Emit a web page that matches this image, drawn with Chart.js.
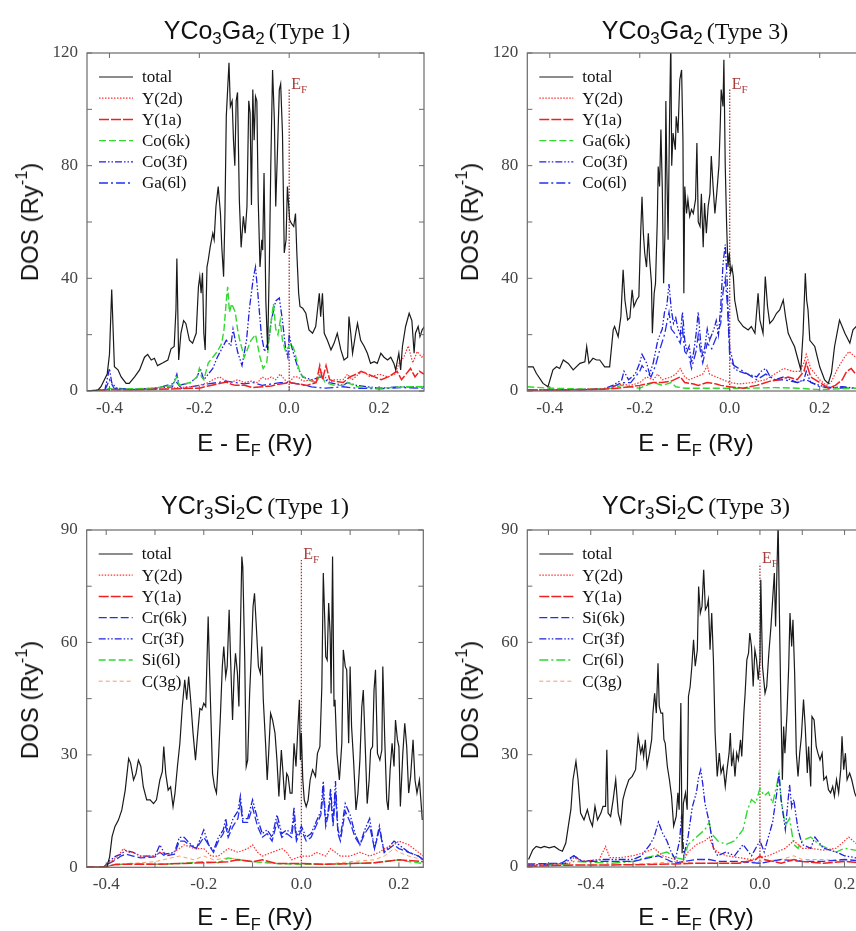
<!DOCTYPE html>
<html><head><meta charset="utf-8">
<script src="https://cdn.jsdelivr.net/npm/chart.js@4/dist/chart.umd.min.js"></script>
<style>
html,body{margin:0;padding:0;background:#fff;width:856px;height:931px;overflow:hidden;position:relative}
canvas{position:absolute}
.lbl{position:absolute;transform:translate(-50%,-50%);white-space:nowrap;color:#111;line-height:1}
.sans{font-family:"Liberation Sans",Arial,sans-serif}
.serif{font-family:"Liberation Serif","Times New Roman",serif}
.ttl .sans{font-size:25px}
.ttl .serif{font-size:24px}
sub{font-size:0.68em;vertical-align:-0.3em;line-height:0}
sup{font-size:0.68em;vertical-align:0.65em;line-height:0}
.ax{font-size:24px}
.rot{transform:translate(-50%,-50%) rotate(-90deg)}
</style>
</head><body>
<canvas id="c1"></canvas><canvas id="c2"></canvas><canvas id="c3"></canvas><canvas id="c4"></canvas>

<div class="lbl ttl" style="left:257px;top:30px"><span class="sans">YCo<sub>3</sub>Ga<sub>2</sub></span> <span class="serif">(Type 1)</span></div>
<div class="lbl ttl" style="left:695px;top:30px"><span class="sans">YCo<sub>3</sub>Ga<sub>2</sub></span> <span class="serif">(Type 3)</span></div>
<div class="lbl ttl" style="left:255px;top:505px"><span class="sans">YCr<sub>3</sub>Si<sub>2</sub>C</span> <span class="serif">(Type 1)</span></div>
<div class="lbl ttl" style="left:696px;top:505px"><span class="sans">YCr<sub>3</sub>Si<sub>2</sub>C</span> <span class="serif">(Type 3)</span></div>

<div class="lbl sans ax rot" style="left:30px;top:222px">DOS (Ry<sup>-1</sup>)</div>
<div class="lbl sans ax rot" style="left:470px;top:222px">DOS (Ry<sup>-1</sup>)</div>
<div class="lbl sans ax rot" style="left:30px;top:700px">DOS (Ry<sup>-1</sup>)</div>
<div class="lbl sans ax rot" style="left:470px;top:700px">DOS (Ry<sup>-1</sup>)</div>

<div class="lbl sans ax" style="left:255px;top:443px">E - E<sub>F</sub> (Ry)</div>
<div class="lbl sans ax" style="left:696px;top:443px">E - E<sub>F</sub> (Ry)</div>
<div class="lbl sans ax" style="left:255px;top:917px">E - E<sub>F</sub> (Ry)</div>
<div class="lbl sans ax" style="left:696px;top:917px">E - E<sub>F</sub> (Ry)</div>

<script>
// ---------------- DATA ----------------
// Panel 1: YCo3Ga2 (Type 1)
const p1Total = [[-0.448,0],[-0.426,0.3],[-0.419,1.5],[-0.405,6],[-0.400,13],[-0.395,36],[-0.389,8.6],[-0.381,7.5],[-0.374,5],[-0.363,2.7],[-0.356,2.7],[-0.344,5],[-0.333,7.5],[-0.322,12],[-0.315,13],[-0.307,11],[-0.300,11.6],[-0.293,9],[-0.281,10],[-0.270,11],[-0.263,15],[-0.256,15.8],[-0.252,29],[-0.250,47],[-0.246,11],[-0.241,20.5],[-0.235,25],[-0.230,24],[-0.222,18],[-0.215,17],[-0.207,20.5],[-0.202,37],[-0.199,40.6],[-0.196,34.7],[-0.193,42],[-0.190,20.5],[-0.187,14.6],[-0.183,44],[-0.180,46.6],[-0.176,51],[-0.170,56],[-0.167,53.7],[-0.163,65.5],[-0.158,72.6],[-0.153,63],[-0.150,51],[-0.146,40.6],[-0.143,63],[-0.140,97.5],[-0.137,107],[-0.134,116.5],[-0.131,101],[-0.127,103],[-0.124,89],[-0.121,80],[-0.118,103],[-0.115,106],[-0.111,68],[-0.107,51],[-0.102,62],[-0.098,56],[-0.094,65.5],[-0.090,103],[-0.087,98.7],[-0.084,66],[-0.081,107],[-0.078,89],[-0.075,104.6],[-0.072,103],[-0.069,68],[-0.065,44],[-0.061,53.7],[-0.059,50],[-0.056,77.4],[-0.052,32],[-0.048,14.6],[-0.044,46.6],[-0.041,80],[-0.037,114],[-0.033,96],[-0.030,65.5],[-0.026,85.7],[-0.022,107],[-0.019,109],[-0.015,91.6],[-0.011,49],[-0.007,53.7],[-0.004,72.6],[0.001,60.8],[0.005,59.5],[0.010,58.4],[0.014,63],[0.017,49],[0.021,34.7],[0.024,30],[0.030,29.4],[0.037,27.6],[0.044,21.7],[0.052,20.5],[0.059,22.9],[0.067,34.7],[0.070,26.4],[0.074,34.7],[0.078,20.5],[0.085,18],[0.093,14.6],[0.100,17],[0.107,20.5],[0.115,14.6],[0.122,11],[0.130,12],[0.133,26.4],[0.137,20.5],[0.141,13.4],[0.148,20.5],[0.152,24],[0.159,18],[0.167,15.8],[0.174,13.4],[0.181,9.8],[0.189,10.4],[0.196,9.8],[0.204,13.4],[0.211,12],[0.219,11],[0.226,12],[0.233,9.8],[0.237,7.5],[0.241,11],[0.244,13.4],[0.248,7.5],[0.252,15.8],[0.259,22.9],[0.267,27.6],[0.273,25],[0.278,13.4],[0.281,20.5],[0.287,22.9],[0.291,19.3],[0.296,21.7],[0.301,22.9]];
const p1Y2d = [[-0.45,0],[-0.40,0.5],[-0.30,0.5],[-0.25,1.2],[-0.22,1.5],[-0.20,2],[-0.18,3],[-0.17,4],[-0.155,5],[-0.145,4],[-0.13,3],[-0.115,4],[-0.10,3],[-0.085,3.5],[-0.07,3],[-0.06,5],[-0.05,4],[-0.04,5],[-0.03,4],[-0.02,6],[-0.01,4],[0.0,3],[0.01,5],[0.02,5],[0.03,3.5],[0.05,4],[0.06,3],[0.07,7],[0.08,5],[0.09,3],[0.1,4],[0.12,4],[0.13,6],[0.14,4],[0.155,6],[0.165,7],[0.18,5],[0.2,6],[0.22,5],[0.235,6],[0.245,10],[0.255,12],[0.265,16],[0.275,10],[0.285,14],[0.295,12],[0.30,13]];
const p1Y1a = [[-0.45,0],[-0.40,0.5],[-0.35,0.4],[-0.30,0.6],[-0.25,0.8],[-0.2,1],[-0.18,1.8],[-0.16,2.5],[-0.14,3.2],[-0.13,2.5],[-0.12,2],[-0.1,2],[-0.08,1.2],[-0.06,1.5],[-0.04,1.8],[-0.02,2.5],[0,3],[0.02,2.5],[0.04,2],[0.06,3],[0.068,9],[0.074,4],[0.082,9],[0.09,4],[0.1,3.5],[0.12,3],[0.135,5],[0.15,6],[0.16,7],[0.175,6],[0.19,5],[0.205,4],[0.22,5],[0.24,7],[0.25,4],[0.26,6],[0.27,8],[0.28,5],[0.29,7],[0.3,6]];
const p1Co6k = [[-0.45,0],[-0.41,0.3],[-0.40,1],[-0.39,0.5],[-0.35,0.8],[-0.30,1],[-0.26,2],[-0.25,5],[-0.245,2],[-0.22,3],[-0.205,5],[-0.20,8],[-0.195,5],[-0.19,4],[-0.18,10],[-0.17,12],[-0.16,14],[-0.15,17],[-0.145,22],[-0.14,32],[-0.137,37],[-0.133,28],[-0.128,31],[-0.12,28],[-0.115,22],[-0.11,18],[-0.10,12],[-0.09,16],[-0.085,18],[-0.075,20],[-0.07,16],[-0.065,12],[-0.058,8],[-0.05,10],[-0.045,18],[-0.04,25],[-0.035,31],[-0.03,22],[-0.025,20],[-0.02,25],[-0.015,18],[-0.008,14],[0,16],[0.005,17],[0.012,14],[0.018,10],[0.025,6],[0.04,4],[0.06,3],[0.07,6],[0.08,3],[0.1,2],[0.12,2],[0.13,3],[0.15,1.5],[0.2,1],[0.26,1.5],[0.3,1.5]];
const p1Co3f = [[-0.45,0],[-0.41,0.5],[-0.40,8],[-0.395,3],[-0.385,1],[-0.35,0.6],[-0.3,1],[-0.26,1.5],[-0.25,6],[-0.245,2],[-0.22,3],[-0.205,5],[-0.198,8],[-0.19,4],[-0.18,6],[-0.17,8],[-0.16,12],[-0.15,15],[-0.14,18],[-0.13,16],[-0.125,22],[-0.115,14],[-0.105,9],[-0.095,18],[-0.088,30],[-0.08,40],[-0.075,44],[-0.07,35],[-0.062,20],[-0.055,14],[-0.045,18],[-0.04,25],[-0.03,32],[-0.022,33],[-0.015,25],[-0.008,15],[-0.003,12],[0,20],[0.005,16],[0.012,12],[0.02,8],[0.03,5],[0.05,4],[0.07,5],[0.09,3],[0.12,2],[0.13,3],[0.15,2],[0.2,1],[0.25,1.5],[0.3,1.5]];
const p1Ga6l = [[-0.45,0],[-0.41,0.3],[-0.40,4],[-0.39,1],[-0.35,0.5],[-0.3,0.8],[-0.25,3],[-0.24,1],[-0.2,2],[-0.18,2.5],[-0.16,3],[-0.14,3.5],[-0.12,3],[-0.1,2.5],[-0.08,3],[-0.06,2],[-0.04,2.5],[-0.02,3],[0,3],[0.02,2.5],[0.05,1.5],[0.08,1],[0.12,1.5],[0.15,1],[0.2,0.8],[0.25,1.2],[0.3,1]];

// Panel 2: YCo3Ga2 (Type 3)
const p2Total = [[-0.450,8.6],[-0.437,8.6],[-0.430,6.3],[-0.415,2.7],[-0.404,1.5],[-0.393,7.5],[-0.385,8.6],[-0.378,8],[-0.370,11],[-0.359,9.8],[-0.348,7.5],[-0.333,9.8],[-0.322,10.4],[-0.318,15.8],[-0.313,9.8],[-0.304,11.6],[-0.296,11],[-0.289,11],[-0.278,8.6],[-0.267,8.6],[-0.259,21.7],[-0.256,22.9],[-0.248,19.3],[-0.242,26.4],[-0.237,43],[-0.233,32.3],[-0.227,25.2],[-0.222,26],[-0.217,35.9],[-0.213,30],[-0.207,32.3],[-0.202,33.5],[-0.198,56],[-0.195,69],[-0.192,56],[-0.189,49],[-0.185,44],[-0.181,56],[-0.178,46.6],[-0.174,38.3],[-0.172,20.5],[-0.168,34.7],[-0.165,38.3],[-0.161,60.8],[-0.159,79.7],[-0.156,72.6],[-0.153,92.8],[-0.150,72.6],[-0.147,38.3],[-0.144,56],[-0.142,103],[-0.140,80],[-0.137,53.7],[-0.134,94],[-0.131,125],[-0.129,80],[-0.126,91.6],[-0.124,91.6],[-0.121,85.7],[-0.119,97.5],[-0.115,91.6],[-0.111,110.5],[-0.107,114],[-0.104,89],[-0.102,34.7],[-0.100,72.6],[-0.096,63],[-0.093,68],[-0.089,62],[-0.085,64.4],[-0.081,63],[-0.076,68],[-0.073,88],[-0.070,60],[-0.066,58.4],[-0.063,70],[-0.059,51],[-0.056,66.7],[-0.052,56],[-0.048,65.5],[-0.044,70],[-0.041,83.4],[-0.037,72.6],[-0.033,63],[-0.029,70],[-0.024,80],[-0.021,95],[-0.019,107],[-0.015,101],[-0.013,117.6],[-0.010,80],[-0.007,59.5],[-0.004,44],[-0.001,49],[0.002,42],[0.005,44],[0.008,40.6],[0.011,32.3],[0.019,25.2],[0.030,22.9],[0.041,21.7],[0.048,22.9],[0.056,20.5],[0.063,34.7],[0.067,25.2],[0.074,20.5],[0.079,40.6],[0.084,30],[0.089,24],[0.096,25.2],[0.104,27.6],[0.111,28.8],[0.119,32.3],[0.124,26.4],[0.130,20.5],[0.137,18],[0.144,15.8],[0.152,11],[0.158,7.5],[0.163,20.5],[0.168,41.8],[0.171,32.3],[0.174,28.8],[0.178,18],[0.189,15.8],[0.200,8.6],[0.211,3.9],[0.219,2.7],[0.226,6.3],[0.233,15.8],[0.244,25.2],[0.256,20.5],[0.267,17],[0.274,21.7],[0.281,22.9],[0.290,20],[0.300,18]];
const p2Y2d = [[-0.45,0.3],[-0.35,0.5],[-0.28,0.8],[-0.26,1.5],[-0.24,2.5],[-0.22,2],[-0.2,3],[-0.185,5],[-0.17,4],[-0.16,6],[-0.15,4],[-0.13,5],[-0.12,6],[-0.11,8],[-0.1,5],[-0.09,4],[-0.075,5],[-0.06,6],[-0.05,9],[-0.045,6],[-0.03,5],[-0.015,4],[0,3],[0.02,2.5],[0.05,3],[0.08,4],[0.1,6],[0.12,8],[0.14,7],[0.155,7],[0.165,10],[0.17,13],[0.18,8],[0.19,6],[0.2,4],[0.215,2],[0.225,3],[0.24,8],[0.255,12],[0.265,14],[0.28,12],[0.3,11]];
const p2Y1a = [[-0.45,0.3],[-0.35,0.4],[-0.28,0.6],[-0.25,1],[-0.22,1.5],[-0.2,2],[-0.17,3],[-0.15,3],[-0.13,3.5],[-0.11,5],[-0.1,3],[-0.08,2.5],[-0.07,2],[-0.05,3],[-0.03,2.5],[-0.02,2],[0,1.5],[0.03,1],[0.06,2],[0.09,3.5],[0.11,4],[0.13,5],[0.15,4],[0.165,7],[0.17,10],[0.18,5],[0.2,3],[0.21,2],[0.22,1],[0.235,2],[0.25,4],[0.26,7],[0.27,8],[0.28,6],[0.3,6]];
const p2Ga6k = [[-0.45,1.5],[-0.4,1],[-0.3,0.6],[-0.26,1],[-0.24,2],[-0.22,1.5],[-0.2,1],[-0.17,3],[-0.15,2],[-0.13,3],[-0.12,1.5],[-0.1,1],[-0.05,1],[0,1],[0.05,1],[0.1,1.2],[0.15,1],[0.2,0.5],[0.28,1],[0.3,1]];
const p2Co3f = [[-0.45,0.3],[-0.35,0.5],[-0.28,0.8],[-0.26,2],[-0.24,4],[-0.235,7],[-0.225,4],[-0.21,6],[-0.2,10],[-0.195,13],[-0.185,10],[-0.178,6],[-0.17,10],[-0.16,18],[-0.15,22],[-0.145,28],[-0.14,30],[-0.135,38],[-0.13,29],[-0.125,24],[-0.12,26],[-0.115,22],[-0.11,20],[-0.105,28],[-0.1,18],[-0.095,14],[-0.09,16],[-0.085,10],[-0.08,14],[-0.075,20],[-0.07,28],[-0.065,18],[-0.06,12],[-0.055,16],[-0.05,22],[-0.045,18],[-0.04,20],[-0.035,22],[-0.03,25],[-0.025,20],[-0.02,30],[-0.015,45],[-0.01,52],[-0.006,40],[-0.003,25],[0,15],[0.005,12],[0.01,8],[0.02,7],[0.04,6],[0.06,5],[0.07,7],[0.08,8],[0.09,5],[0.1,4],[0.12,5],[0.15,3],[0.165,4],[0.17,7],[0.18,3],[0.2,2],[0.22,1],[0.25,1.5],[0.28,1],[0.3,1]];
const p2Co6l = [[-0.45,0.3],[-0.35,0.4],[-0.28,0.6],[-0.26,1.5],[-0.24,3],[-0.22,3],[-0.2,7],[-0.195,9],[-0.185,7],[-0.175,5],[-0.165,9],[-0.155,15],[-0.145,20],[-0.14,24],[-0.135,28],[-0.13,22],[-0.12,20],[-0.11,17],[-0.105,22],[-0.1,14],[-0.09,12],[-0.085,8],[-0.075,14],[-0.07,20],[-0.065,14],[-0.06,10],[-0.05,17],[-0.04,15],[-0.03,19],[-0.02,24],[-0.015,35],[-0.01,40],[-0.005,30],[0,12],[0.005,10],[0.01,9],[0.02,8],[0.04,6],[0.06,4],[0.08,6],[0.1,4],[0.12,4],[0.15,3],[0.17,4],[0.2,1.5],[0.25,1],[0.28,1],[0.3,1]];

// Panel 3: YCr3Si2C (Type 1)
const p3Total = [[-0.439,0],[-0.399,0],[-0.393,2.8],[-0.388,8.2],[-0.382,10.9],[-0.375,12.6],[-0.368,15.3],[-0.361,20.6],[-0.354,29],[-0.350,27.8],[-0.344,23.3],[-0.339,25],[-0.334,28.6],[-0.329,26.9],[-0.324,21.5],[-0.317,18],[-0.310,18],[-0.303,17],[-0.297,18],[-0.290,23.3],[-0.285,25.5],[-0.282,32.2],[-0.278,25],[-0.273,20.6],[-0.268,21.5],[-0.263,16.2],[-0.259,19.8],[-0.254,26.9],[-0.249,33.1],[-0.244,42.9],[-0.239,50],[-0.235,44.7],[-0.231,50.9],[-0.227,44.7],[-0.222,35.8],[-0.217,28.6],[-0.213,34.9],[-0.208,42.4],[-0.204,42],[-0.200,43.8],[-0.196,42.9],[-0.191,66.9],[-0.188,51.8],[-0.182,25],[-0.178,21.5],[-0.174,19.8],[-0.170,28.6],[-0.166,40.2],[-0.162,53.6],[-0.159,58.9],[-0.155,50.9],[-0.152,53.6],[-0.148,68.7],[-0.145,55.3],[-0.141,39.3],[-0.138,50.9],[-0.135,57.1],[-0.131,51.8],[-0.128,42.9],[-0.125,62.5],[-0.122,82.9],[-0.120,80.1],[-0.116,55.3],[-0.113,26.9],[-0.110,28.6],[-0.106,46.4],[-0.103,55.3],[-0.099,69.6],[-0.096,73.1],[-0.093,66],[-0.088,53.6],[-0.084,51.8],[-0.081,58.9],[-0.078,44.7],[-0.073,32.2],[-0.070,23.3],[-0.067,30.4],[-0.063,41.1],[-0.059,39.3],[-0.054,35.8],[-0.050,28.6],[-0.046,18.9],[-0.041,31.3],[-0.038,26],[-0.034,18],[-0.030,25],[-0.027,24.2],[-0.023,19.8],[-0.019,19.8],[-0.015,33.1],[-0.011,26.9],[-0.007,37.5],[-0.004,44.7],[-0.002,28.6],[0.000,35.8],[0.003,23.3],[0.006,18],[0.010,16.2],[0.014,18],[0.018,23.3],[0.023,26],[0.029,24.2],[0.033,30.4],[0.038,32.2],[0.042,48.2],[0.045,78.5],[0.048,66],[0.050,56.2],[0.053,55.3],[0.056,70.5],[0.059,62.5],[0.061,46.4],[0.064,82.9],[0.067,42.9],[0.069,44.7],[0.073,30.4],[0.078,23.3],[0.083,33.1],[0.086,58],[0.090,53.6],[0.093,52.7],[0.097,33.1],[0.100,53.6],[0.103,37.5],[0.107,28.6],[0.112,15.3],[0.116,19.8],[0.120,28.6],[0.124,42.9],[0.127,47.3],[0.131,32.2],[0.135,17],[0.139,23.3],[0.142,31.3],[0.146,32.2],[0.149,47.3],[0.152,52.7],[0.156,30.4],[0.161,28.6],[0.165,31.3],[0.167,53.6],[0.171,34],[0.175,18],[0.178,15.3],[0.182,26],[0.186,33.1],[0.190,26.9],[0.193,39.3],[0.197,34],[0.200,32.2],[0.203,16.2],[0.208,30.4],[0.212,38.4],[0.216,32.2],[0.220,19.8],[0.224,24.2],[0.229,34],[0.233,23.3],[0.237,19.8],[0.242,23.3],[0.248,12.6]];
const p3Y2d = [[-0.44,0],[-0.405,0],[-0.39,1.5],[-0.375,3],[-0.365,5],[-0.355,4],[-0.345,4],[-0.33,3],[-0.3,3],[-0.29,4],[-0.27,3.5],[-0.25,5],[-0.24,6],[-0.22,5],[-0.2,5],[-0.185,3],[-0.17,3],[-0.15,5],[-0.13,4],[-0.11,5],[-0.1,6],[-0.09,4],[-0.08,3],[-0.06,4],[-0.04,5],[-0.03,4],[-0.02,2],[0,3],[0.02,3],[0.03,4],[0.05,3],[0.06,5],[0.08,3],[0.1,3],[0.12,4],[0.14,3],[0.16,4],[0.17,5],[0.19,6],[0.2,7],[0.22,6],[0.24,4],[0.25,3]];
const p3Y1a = [[-0.44,0],[-0.405,0],[-0.38,0.8],[-0.3,0.8],[-0.25,1],[-0.2,1.2],[-0.15,1.5],[-0.13,2],[-0.1,1.5],[-0.08,2],[-0.05,1],[0,1],[0.05,0.8],[0.1,1],[0.15,1.2],[0.2,2],[0.25,1.5]];
const p3Cr6k = [[-0.44,0],[-0.405,0],[-0.395,1],[-0.38,2],[-0.37,3],[-0.36,3.5],[-0.345,3],[-0.33,2.5],[-0.3,2.8],[-0.29,4],[-0.28,3],[-0.26,3.5],[-0.25,7],[-0.24,7],[-0.23,6],[-0.215,5],[-0.2,8],[-0.19,6],[-0.18,4],[-0.17,7],[-0.16,9],[-0.155,11],[-0.15,8],[-0.14,11],[-0.13,13],[-0.125,17],[-0.12,12],[-0.11,12],[-0.1,16],[-0.09,11],[-0.08,8],[-0.07,9],[-0.06,7],[-0.05,12],[-0.04,8],[-0.03,9],[-0.02,8],[-0.015,13],[-0.01,7],[0,10],[0.01,7],[0.02,8],[0.03,11],[0.04,14],[0.045,20],[0.05,11],[0.055,14],[0.06,19],[0.065,11],[0.07,20],[0.075,9],[0.08,7],[0.09,15],[0.1,12],[0.11,8],[0.12,6],[0.13,9],[0.14,11],[0.15,5],[0.16,10],[0.17,4],[0.19,6],[0.2,5],[0.22,4],[0.24,3],[0.25,2]];
const p3Cr3f = [[-0.44,0],[-0.405,0],[-0.395,1.5],[-0.38,3],[-0.37,3.5],[-0.36,4.5],[-0.345,4],[-0.33,3],[-0.3,3],[-0.29,6],[-0.28,3.5],[-0.26,4],[-0.25,8],[-0.24,8],[-0.23,6.5],[-0.215,5],[-0.2,10],[-0.19,6],[-0.18,4.5],[-0.17,8],[-0.16,10],[-0.155,13],[-0.15,9],[-0.14,13],[-0.13,15],[-0.125,19],[-0.12,13],[-0.11,13],[-0.1,18],[-0.09,13],[-0.08,9],[-0.07,10],[-0.06,8],[-0.05,14],[-0.04,9],[-0.03,10],[-0.02,9],[-0.015,16],[-0.01,8],[0,11],[0.01,8],[0.02,9],[0.03,12],[0.04,15],[0.045,23],[0.05,12],[0.055,15],[0.06,21],[0.065,12],[0.07,23],[0.075,10],[0.08,8],[0.09,17],[0.1,14],[0.11,9],[0.12,6],[0.13,10],[0.14,13],[0.15,5],[0.16,11],[0.17,4],[0.19,7],[0.2,6],[0.22,4],[0.24,3],[0.25,2]];
const p3Si6l = [[-0.44,0],[-0.405,0],[-0.39,0.5],[-0.35,1],[-0.3,0.8],[-0.25,1],[-0.2,1.5],[-0.17,1.2],[-0.15,2.5],[-0.13,2],[-0.1,1.5],[-0.05,1],[0,0.8],[0.05,0.8],[0.1,1],[0.15,1.2],[0.2,2],[0.22,1.5],[0.25,1]];
const p3C3g = [[-0.44,0],[-0.405,0],[-0.39,0.5],[-0.35,1],[-0.3,1.5],[-0.25,3],[-0.22,2],[-0.2,3],[-0.18,2],[-0.15,2.5],[-0.12,2],[-0.1,1.5],[-0.05,1],[0,1],[0.05,0.8],[0.1,1.5],[0.15,2],[0.17,3],[0.19,5],[0.2,4],[0.22,3],[0.25,2]];

// Panel 4: YCr3Si2C (Type 3)
const p4Total = [[-0.547,2],[-0.537,4.6],[-0.529,5.5],[-0.518,5.1],[-0.510,5.5],[-0.498,5.1],[-0.486,5.5],[-0.475,4.6],[-0.467,4.2],[-0.459,6.4],[-0.453,10.9],[-0.447,15.3],[-0.442,23.3],[-0.435,28.2],[-0.430,23.3],[-0.424,14.4],[-0.416,12.6],[-0.408,15.3],[-0.402,12.6],[-0.396,10.9],[-0.390,16.2],[-0.384,12.6],[-0.376,14.4],[-0.371,16.2],[-0.365,16.2],[-0.362,31.3],[-0.359,14.4],[-0.353,13.5],[-0.347,18],[-0.341,23.3],[-0.335,14.4],[-0.329,11.7],[-0.324,18],[-0.318,20.6],[-0.310,23.3],[-0.302,24.2],[-0.294,26],[-0.288,34.9],[-0.282,30.4],[-0.278,32.2],[-0.275,29.5],[-0.271,34],[-0.267,26.9],[-0.261,30.4],[-0.256,34],[-0.253,41.1],[-0.249,46.4],[-0.245,41.1],[-0.241,54.4],[-0.238,42.9],[-0.234,41.1],[-0.230,41.1],[-0.227,34],[-0.224,33.1],[-0.219,26.9],[-0.214,23.3],[-0.209,18.9],[-0.204,10.9],[-0.198,13.5],[-0.194,19.8],[-0.191,15.3],[-0.187,43.8],[-0.184,3.7],[-0.181,17],[-0.176,19.8],[-0.172,15.3],[-0.169,45.6],[-0.165,48.2],[-0.161,53.6],[-0.157,60.7],[-0.153,53.6],[-0.148,58],[-0.145,74.9],[-0.141,67.8],[-0.137,69.6],[-0.133,79.4],[-0.129,68.7],[-0.125,69.6],[-0.122,71.4],[-0.118,58],[-0.114,67.8],[-0.110,55.3],[-0.106,35.8],[-0.101,24.2],[-0.096,30.4],[-0.092,25.1],[-0.087,26.9],[-0.082,21.5],[-0.078,25.8],[-0.073,30.4],[-0.070,35.8],[-0.067,26.9],[-0.063,30.4],[-0.059,24.2],[-0.055,30.4],[-0.051,28.6],[-0.046,34],[-0.043,29.5],[-0.038,41.1],[-0.035,46.4],[-0.031,55.3],[-0.027,57.1],[-0.024,62.5],[-0.020,58.9],[-0.016,48.2],[-0.012,58],[-0.008,55.3],[-0.004,50],[0.000,55.3],[0.002,76.7],[0.006,53.6],[0.012,46.4],[0.016,48.2],[0.021,57.1],[0.026,64.2],[0.030,71.4],[0.034,78.5],[0.037,64.2],[0.040,78.5],[0.043,92],[0.046,67.8],[0.049,46.4],[0.053,23.3],[0.056,37.5],[0.059,30.4],[0.064,41.1],[0.068,53.6],[0.071,67.8],[0.075,58.9],[0.078,66],[0.082,51.8],[0.086,30.4],[0.090,24.2],[0.094,30.4],[0.098,34.9],[0.103,44.7],[0.107,37.5],[0.112,25.1],[0.115,32.2],[0.120,21.5],[0.123,40.2],[0.128,39.3],[0.133,32.2],[0.137,30.4],[0.142,28.6],[0.147,30.4],[0.151,23.3],[0.157,24.2],[0.162,20.6],[0.167,19.8],[0.172,21.5],[0.176,18.9],[0.181,23.3],[0.186,19.8],[0.191,26],[0.194,34.9],[0.198,26],[0.202,30.4],[0.206,23.3],[0.212,25.1],[0.217,23.3],[0.224,19.8],[0.227,18.9],[0.240,19],[0.250,18]];
const p4Y2d = [[-0.55,0.5],[-0.45,1],[-0.44,2.5],[-0.42,1.5],[-0.38,2],[-0.365,5.5],[-0.355,2.5],[-0.33,2.5],[-0.3,3],[-0.27,4],[-0.25,5],[-0.23,3],[-0.2,2],[-0.185,1],[-0.17,4],[-0.15,6],[-0.13,7],[-0.12,8],[-0.11,5],[-0.1,4],[-0.08,3],[-0.05,2.5],[-0.02,2],[0,2.5],[0.02,3],[0.04,4],[0.06,5],[0.08,7],[0.1,5],[0.12,5],[0.15,4.5],[0.18,5],[0.2,7],[0.21,8],[0.23,6],[0.25,6]];
const p4Y1a = [[-0.55,0.2],[-0.45,0.5],[-0.3,0.6],[-0.2,0.8],[-0.15,1],[-0.1,1],[-0.05,1],[-0.01,2],[0,3],[0.01,2],[0.05,1],[0.08,2],[0.1,1.5],[0.15,1],[0.2,1.5],[0.25,1]];
const p4Si6k = [[-0.55,0.8],[-0.47,1],[-0.44,3],[-0.42,1.5],[-0.38,1.5],[-0.3,1.5],[-0.26,2.5],[-0.24,3],[-0.22,2],[-0.2,1],[-0.18,1.5],[-0.15,2],[-0.12,2],[-0.1,1.5],[-0.05,1.5],[0,1],[0.05,2],[0.1,1.5],[0.15,1.5],[0.2,2],[0.25,1.5]];
const p4Cr3f = [[-0.55,0.5],[-0.46,1],[-0.44,3],[-0.42,1.5],[-0.37,2],[-0.3,2],[-0.28,3],[-0.26,6],[-0.25,8],[-0.24,12],[-0.23,9],[-0.22,7],[-0.21,4],[-0.2,2],[-0.19,7],[-0.185,14],[-0.18,3],[-0.17,8],[-0.16,16],[-0.15,20],[-0.145,24],[-0.14,26],[-0.135,22],[-0.13,17],[-0.12,12],[-0.11,5],[-0.1,3],[-0.08,4],[-0.06,3],[-0.04,6],[-0.02,3],[-0.01,5],[0,7],[0.01,4],[0.02,8],[0.03,12],[0.04,20],[0.045,25],[0.05,18],[0.06,10],[0.065,16],[0.07,22],[0.075,16],[0.08,18],[0.09,10],[0.1,6],[0.12,5],[0.13,8],[0.15,5],[0.18,4],[0.2,3],[0.25,2]];
const p4Cr6l = [[-0.55,0.3],[-0.45,0.8],[-0.44,1.5],[-0.35,1],[-0.3,1.5],[-0.27,2.5],[-0.25,3],[-0.22,4],[-0.2,2.5],[-0.18,2],[-0.17,6],[-0.15,8],[-0.13,10],[-0.12,12],[-0.115,9],[-0.1,7],[-0.08,6],[-0.06,7],[-0.04,10],[-0.03,15],[-0.02,18],[-0.01,17],[0,21],[0.01,19],[0.02,20],[0.03,17],[0.04,22],[0.045,25],[0.05,18],[0.06,11],[0.07,13],[0.08,6],[0.09,5],[0.1,7],[0.12,8],[0.14,6],[0.16,5],[0.18,4],[0.2,5],[0.25,4]];
const p4C3g = [[-0.55,0.2],[-0.45,0.5],[-0.35,0.5],[-0.25,1],[-0.2,1.5],[-0.15,1],[-0.1,1],[-0.05,1],[0,1.5],[0.05,2],[0.08,3],[0.1,2],[0.15,2],[0.2,1.5],[0.25,1]];

// Fermi-level marker heights and tick values
const efTop = [107, 107, 82, 81];
const xTicksTop = [-0.4, -0.2, 0.0, 0.2];
const xTicksP3 = [-0.4, -0.3, -0.2, -0.1, 0.0, 0.1, 0.2];
const xTicksP4 = [-0.5, -0.4, -0.3, -0.2, -0.1, 0.0, 0.1, 0.2];
const yTicksTop = [0, 20, 40, 60, 80, 100, 120];
const yTicksBot = [0, 15, 30, 45, 60, 75, 90];

// ---------------- STYLES ----------------
const STY = {
  total:  {c:'#1a1a1a', w:1.2, d:[]},
  ydot:   {c:'#ff3030', w:1.2, d:[1.5,1.5]},
  ysol:   {c:'#ee2020', w:1.5, d:[10,2]},
  gdash:  {c:'#30d830', w:1.4, d:[7,3]},
  gdd:    {c:'#30d830', w:1.4, d:[9,3,2,3]},
  bdd:    {c:'#2020dd', w:1.3, d:[7,2,1.5,2,1.5,2]},
  bd:     {c:'#2030ee', w:1.3, d:[9,3,2,3]},
  bdash:  {c:'#2030ee', w:1.3, d:[8,3]},
  orange: {c:'#ff9966', w:1.0, d:[4,3]},
};

const panels = [
  {id:'c1', left:0, top:0, w:430, h:460, yW:87, padTop:53, xH:69, padR:6,
   xMin:-0.45, xMax:0.30, xTicks:xTicksTop, yMax:120, yTicks:yTicksTop, yLab:40, ef:efTop[0],
   series:[['total',p1Total,'total'],['Y(2d)',p1Y2d,'ydot'],['Y(1a)',p1Y1a,'ysol'],['Co(6k)',p1Co6k,'gdash'],['Co(3f)',p1Co3f,'bdd'],['Ga(6l)',p1Ga6l,'bd']]},
  {id:'c2', left:428, top:0, w:445, h:460, yW:99.3, padTop:53, xH:69, padR:8.3,
   xMin:-0.45, xMax:0.30, xTicks:xTicksTop, yMax:120, yTicks:yTicksTop, yLab:40, ef:efTop[1],
   series:[['total',p2Total,'total'],['Y(2d)',p2Y2d,'ydot'],['Y(1a)',p2Y1a,'ysol'],['Ga(6k)',p2Ga6k,'gdash'],['Co(3f)',p2Co3f,'bdd'],['Co(6l)',p2Co6l,'bd']]},
  {id:'c3', left:0, top:460, w:430, h:471, yW:86.7, padTop:70, xH:63.7, padR:6.7,
   xMin:-0.44, xMax:0.25, xTicks:xTicksP3, yMax:90, yTicks:yTicksBot, yLab:30, ef:efTop[2],
   series:[['total',p3Total,'total'],['Y(2d)',p3Y2d,'ydot'],['Y(1a)',p3Y1a,'ysol'],['Cr(6k)',p3Cr6k,'bdash'],['Cr(3f)',p3Cr3f,'bdd'],['Si(6l)',p3Si6l,'gdash'],['C(3g)',p3C3g,'orange']]},
  {id:'c4', left:428, top:460, w:445, h:471, yW:99.3, padTop:70, xH:64, padR:7.3,
   xMin:-0.55, xMax:0.25, xTicks:xTicksP4, yMax:90, yTicks:yTicksBot, yLab:30, ef:efTop[3],
   series:[['total',p4Total,'total'],['Y(2d)',p4Y2d,'ydot'],['Y(1a)',p4Y1a,'ysol'],['Si(6k)',p4Si6k,'bdash'],['Cr(3f)',p4Cr3f,'bdd'],['Cr(6l)',p4Cr6l,'gdd'],['C(3g)',p4C3g,'orange']]},
];

// Frame, inward ticks, legend and E_F label
const decoPlugin = {
  id: 'deco',
  afterDraw(chart, args, opts) {
    const ctx = chart.ctx, a = chart.chartArea;
    const xs = chart.scales.x, ys = chart.scales.y;
    ctx.save();
    ctx.strokeStyle = '#6a6a6a'; ctx.lineWidth = 1.2; ctx.setLineDash([]);
    ctx.strokeRect(a.left, a.top, a.right - a.left, a.bottom - a.top);
    ctx.lineWidth = 1;
    const tl = 5;
    xs.ticks.forEach(t => {
      const px = xs.getPixelForValue(t.value);
      ctx.beginPath();
      ctx.moveTo(px, a.bottom); ctx.lineTo(px, a.bottom - tl);
      ctx.moveTo(px, a.top); ctx.lineTo(px, a.top + tl);
      ctx.stroke();
    });
    ys.ticks.forEach(t => {
      const py = ys.getPixelForValue(t.value);
      ctx.beginPath();
      ctx.moveTo(a.left, py); ctx.lineTo(a.left + tl, py);
      ctx.moveTo(a.right, py); ctx.lineTo(a.right - tl, py);
      ctx.stroke();
    });
    // legend
    ctx.font = '17px "Liberation Serif", "Times New Roman", serif';
    ctx.textBaseline = 'middle';
    opts.items.forEach((it, i) => {
      const s = STY[it[1]];
      const y = a.top + 24 + i * 21.2;
      ctx.strokeStyle = s.c; ctx.lineWidth = s.w; ctx.setLineDash(s.d);
      ctx.beginPath(); ctx.moveTo(a.left + 12, y); ctx.lineTo(a.left + 46, y); ctx.stroke();
      ctx.setLineDash([]);
      ctx.fillStyle = '#111';
      ctx.fillText(it[0], a.left + 55, y + 1);
    });
    // E_F label
    const ex = xs.getPixelForValue(0) + 2, ey = ys.getPixelForValue(opts.ef) - 1;
    ctx.fillStyle = '#a83a3a';
    ctx.textBaseline = 'alphabetic';
    ctx.font = '16px "Liberation Serif", "Times New Roman", serif';
    ctx.fillText('E', ex, ey);
    const w = ctx.measureText('E').width;
    ctx.font = '11px "Liberation Serif", "Times New Roman", serif';
    ctx.fillText('F', ex + w, ey + 4);
    ctx.restore();
  }
};

panels.forEach(p => {
  const cv = document.getElementById(p.id);
  cv.width = p.w; cv.height = p.h;
  cv.style.left = p.left + 'px'; cv.style.top = p.top + 'px';
  cv.style.width = p.w + 'px'; cv.style.height = p.h + 'px';
  const datasets = p.series.map(([label, arr, sty]) => {
    const s = STY[sty];
    return {label, data: arr.map(([x, y]) => ({x, y})), borderColor: s.c, borderWidth: s.w,
      borderDash: s.d, pointRadius: 0, fill: false, tension: 0};
  });
  datasets.push({label:'EF', data:[{x:0, y:0}, {x:0, y:p.ef}], borderColor:'#a02828', borderWidth:1.2,
    borderDash:[1.5,1.5], pointRadius:0, fill:false});
  new Chart(cv, {
    type: 'line',
    data: {datasets},
    options: {
      responsive: false, animation: false, devicePixelRatio: 1,
      layout: {padding: {left: 0, top: p.padTop, right: p.padR, bottom: 0}},
      plugins: {legend: {display: false}, tooltip: {enabled: false},
        deco: {items: p.series.map(s => [s[0], s[2]]), ef: p.ef}},
      scales: {
        x: {type: 'linear', min: p.xMin, max: p.xMax,
          grid: {display: false, drawTicks: false}, border: {display: false},
          afterBuildTicks: sc => { sc.ticks = p.xTicks.map(v => ({value: v})); },
          afterFit: sc => { sc.height = p.xH; sc.paddingLeft = 0; sc.paddingRight = 0; },
          ticks: {autoSkip: false, maxRotation: 0, padding: 7, color: '#444',
            font: {family: '"Liberation Serif", "Times New Roman", serif', size: 17},
            callback: v => (Math.round(Math.abs(v) * 10) % 2 === 0) ? (Math.abs(v) < 1e-9 ? '0.0' : v.toFixed(1)) : ''}},
        y: {type: 'linear', min: 0, max: p.yMax,
          grid: {display: false, drawTicks: false}, border: {display: false},
          afterBuildTicks: sc => { sc.ticks = p.yTicks.map(v => ({value: v})); },
          afterFit: sc => { sc.width = p.yW; sc.paddingTop = 0; sc.paddingBottom = 0; },
          ticks: {padding: 9, color: '#444',
            font: {family: '"Liberation Serif", "Times New Roman", serif', size: 17},
            callback: v => (v % p.yLab === 0) ? String(v) : ''}}
      }
    },
    plugins: [decoPlugin]
  });
});
</script>
</body></html>
